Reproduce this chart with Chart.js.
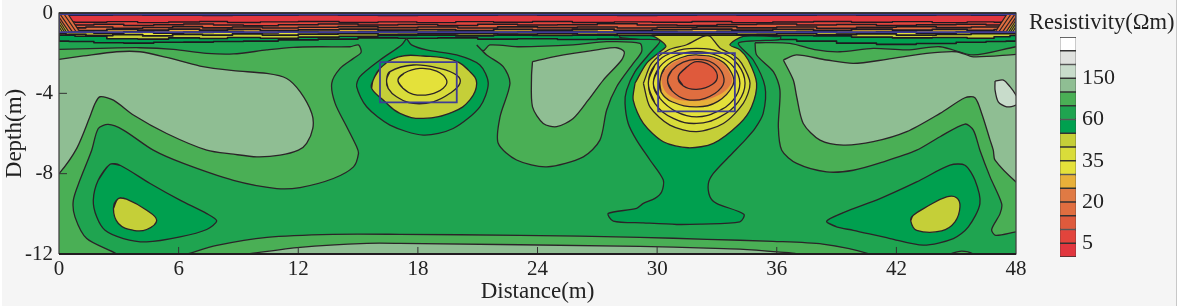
<!DOCTYPE html>
<html><head><meta charset="utf-8">
<style>
html,body{margin:0;padding:0;background:#fff;width:1178px;height:306px;overflow:hidden}
#page{position:absolute;left:2px;top:0;width:1174px;height:306px;background:#f5f5f5;border-right:1px solid #c8c8c8}
canvas{position:absolute;top:0}
#main{left:0}
#bar{left:1050px}
#barTitle{position:absolute;left:1029px;top:9px;font:22.5px "Liberation Serif",serif;color:#222;white-space:nowrap}
</style>
<script src="https://cdn.jsdelivr.net/npm/chart.js@4"></script>
</head><body>
<div id="page"></div>
<canvas id="main" width="1178" height="306"></canvas>
<canvas id="bar" width="128" height="306"></canvas>
<div id="barTitle">Resistivity(Ωm)</div>
<script>
const palette=['#e1363e','#e2443c','#df5a3c','#e06e40','#e07a44','#e8b039','#e4e13a','#d9dc3a','#c5cf38','#00a04f','#1fa450','#4aaf55','#8fbe93','#c8dccb','#dfe1de','#ffffff'];
const legendTickPositions=[1,4,7,10,13];
const legendTickLabels=['5','20','35','60','150'];
const xTicks=[0,6,12,18,24,30,36,42,48];
const yTicks=[0,-4,-8,-12];

const domainRect=[[0,0],[48,0],[48,-12],[0,-12]];
const c12Left=[[0,-1.81],[2.06,-1.76],[4.06,-1.73],[5.74,-1.81],[7.41,-2.01],[8.75,-2.04],[10.42,-1.84],[11.75,-1.71],[13.09,-1.68],[14.6,-1.68],[15.02,-1.59],[15.15,-1.96],[14.77,-2.26],[14.1,-2.76],[13.68,-3.5],[13.85,-4.5],[14.43,-5.66],[14.93,-6.66],[15.02,-7],[14.77,-7.66],[13.76,-8.24],[12.09,-8.69],[10.92,-8.74],[8.75,-8.33],[6.24,-7.49],[4.73,-6.83],[3.23,-5.83],[2.47,-5.55],[1.97,-5.75],[1.64,-6.83],[1.05,-8.32],[0.72,-9.32],[0.8,-10.15],[1.39,-11.23],[2.89,-12],[2.89,-12.2],[0,-12.2],[-0.2,-12.2],[-0.2,-1.81]];
const c12Centre=[[20.95,-1.59],[21.28,-1.88],[21.61,-1.59],[23.12,-1.68],[25.79,-1.59],[27.47,-1.43],[29.14,-1.51],[29.22,-1.93],[28.8,-2.51],[27.97,-3.67],[27.47,-4.83],[27.13,-6.33],[26.3,-7.16],[24.46,-7.66],[22.95,-7.32],[22.03,-6.49],[22.12,-5.17],[22.62,-3.5],[22.28,-2.67],[21.45,-2.09]];
const c12Right=[[34.91,-1.48],[36.66,-1.51],[38,-1.84],[39.17,-1.93],[40.84,-1.76],[42.52,-1.84],[44.19,-1.68],[45.86,-2.09],[48,-1.68],[48.2,-1.68],[48.2,-10.9],[48,-10.9],[46.98,-11.07],[46.78,-10.78],[47.2,-9.99],[47.28,-9.49],[46.7,-8.16],[46.19,-6.83],[45.86,-5.83],[45.44,-5.53],[44.19,-6.16],[43.02,-6.83],[41.35,-7.41],[39.84,-7.83],[38.5,-7.91],[37,-7.49],[36.25,-6.83],[36.08,-5.66],[36.16,-3.84],[35.83,-2.92],[34.99,-2.09]];
const c13Left=[[0,-2.31],[1.22,-2.14],[2.89,-1.93],[4.06,-1.93],[5.4,-2.21],[7.07,-2.64],[8.75,-2.87],[10.42,-3.01],[11.42,-3.26],[12.09,-3.92],[12.68,-5],[12.73,-5.75],[12.42,-6.49],[12.01,-6.83],[11.09,-7.08],[9.92,-7.16],[8.75,-7.03],[7.41,-6.83],[5.4,-6],[3.73,-5.08],[2.73,-4.34],[2.06,-4.17],[1.81,-4.5],[1.55,-5.17],[0.89,-6.74],[0,-8],[-0.2,-8],[-0.2,-2.31]];
const c13Centre=[[23.75,-2.42],[24.79,-2.18],[27.13,-1.81],[27.97,-1.73],[28.35,-1.93],[28.22,-2.34],[27.3,-3.34],[26.55,-4.33],[25.79,-5.25],[24.96,-5.66],[24.29,-5.5],[23.75,-4.67],[23.7,-3.17]];
const c13Right=[[36.33,-2.34],[37,-2.09],[38.5,-2.34],[39.84,-2.51],[41.51,-2.31],[43.52,-2.01],[45.02,-1.93],[45.86,-2.18],[48,-2.06],[48.2,-2.06],[48.2,-8.41],[48,-8.41],[46.95,-7.33],[46.86,-6.83],[46.7,-6.33],[46.28,-5],[45.94,-4.22],[45.44,-4.22],[44.19,-5],[42.52,-5.91],[40.84,-6.41],[39.34,-6.58],[38.17,-6.33],[37.33,-5.5],[37,-4.17],[36.83,-3.34]];
const c14Right=[[46.95,-3.39],[47.37,-3.34],[47.7,-3.67],[48,-4.09],[48.1,-4.3],[48,-4.58],[47.53,-4.67],[47.11,-4.42],[46.95,-3.84]];
const c12Bottom=[[6.42,-12],[7.92,-11.57],[10.43,-11.17],[13.74,-11.02],[17.1,-11.02],[23.12,-11.07],[29.14,-11.17],[32.5,-11.27],[35.81,-11.37],[38.31,-11.51],[40.67,-12],[40.67,-12.2],[6.42,-12.2]];
const c13Bottom=[[9.43,-12],[12.09,-11.67],[15.45,-11.47],[17.1,-11.47],[29.14,-11.62],[32.5,-11.71],[34.15,-11.76],[36.16,-11.91],[37.01,-12],[37.01,-12.2],[9.43,-12.2]];
const c12Bump=[[44.68,-12],[45.27,-11.86],[45.86,-12],[45.86,-12.2],[44.68,-12.2]];
const c10PocketLeft=[[2.56,-7.53],[3.06,-7.58],[4.57,-8.49],[6.07,-9.32],[7.41,-9.99],[7.91,-10.35],[7.41,-10.78],[6.07,-11.15],[4.4,-11.4],[3.23,-11.23],[2.31,-10.82],[1.89,-10.15],[1.72,-9.32],[1.97,-8.32]];
const c9PocketLeft=[[2.98,-9.24],[3.39,-9.27],[4.4,-9.82],[4.9,-10.32],[4.4,-10.78],[3.73,-10.82],[2.98,-10.48],[2.73,-9.74]];
const c10PocketRight=[[38.5,-10.37],[39.34,-9.94],[41.18,-9.24],[43.02,-8.41],[44.69,-7.58],[45.44,-7.58],[45.94,-8.32],[46.19,-9.49],[45.61,-10.65],[44.86,-11.23],[43.35,-11.56],[41.68,-11.23],[39.84,-10.82],[39,-10.65]];
const c9PocketRight=[[42.85,-10.07],[43.52,-9.65],[44.52,-9.16],[45.02,-9.2],[45.19,-9.65],[44.94,-10.4],[44.27,-10.85],[43.02,-10.82],[42.72,-10.35]];
const c10AnomalyLeft=[[17.43,-1.26],[17.68,-1.59],[18.44,-1.84],[19.94,-2.09],[21.11,-2.59],[21.53,-3.5],[21.11,-4.67],[19.77,-5.75],[18.27,-6.08],[16.6,-5.58],[15.43,-4.67],[14.93,-3.67],[15.09,-3.17],[16.1,-2.34],[17.18,-1.59]];
const c9AnomalyLeft=[[15.76,-3.34],[16.1,-2.76],[17.02,-2.18],[18.27,-2.14],[19.77,-2.34],[20.61,-2.92],[20.95,-3.5],[20.61,-4.33],[19.77,-4.92],[18.27,-5.25],[17.1,-5],[16.26,-4.33],[15.68,-3.75]];
const c8AnomalyLeft=[[16.43,-3.34],[16.6,-2.92],[17.77,-2.59],[19.11,-2.76],[19.94,-3.09],[20.11,-3.5],[19.61,-4],[18.77,-4.42],[17.77,-4.5],[16.93,-4.17],[16.51,-3.75]];
const c7AnomalyLeft=[[17,-3.34],[17.3,-3.0],[18.1,-2.76],[18.94,-2.89],[19.44,-3.34],[19.27,-3.75],[18.6,-4.05],[17.77,-4.05],[17.25,-3.75]];
const c10AnomalyRight=[[28.13,-1.08],[36.16,-1.08],[36.16,-1.31],[34.99,-1.38],[34.07,-1.51],[34.82,-2.34],[35.41,-3.67],[35.32,-5],[34.91,-5.75],[34.41,-6.33],[33.6,-7.16],[32.82,-7.99],[32.57,-8.49],[32.65,-9.15],[32.98,-9.48],[34.35,-10.02],[34.15,-10.4],[32.15,-10.51],[30.98,-10.53],[29.31,-10.45],[27.8,-10.36],[27.55,-9.98],[28.97,-9.73],[29.31,-9.48],[29.89,-9.23],[30.23,-8.9],[30.31,-8.32],[29.64,-7.32],[28.97,-6.33],[28.55,-5.5],[28.39,-4.5],[28.47,-3.84],[28.89,-2.92],[29.56,-2.09],[30.14,-1.38],[29.14,-1.31],[28.13,-1.21]];
const c9AnomalyRight=[[28.89,-3.5],[29.47,-2.51],[30.14,-1.93],[30.44,-1.64],[29.72,-1.13],[28.13,-1.08],[28.13,-0.93],[36.16,-0.93],[36.16,-1.16],[34.32,-1.16],[33.65,-1.58],[34.16,-1.84],[34.57,-2.34],[34.99,-3.5],[34.74,-4.67],[34.15,-5.5],[32.82,-6.49],[31.56,-6.71],[30.31,-6.41],[29.31,-5.5],[28.8,-4.34]];
const ringC8=[[29.31,-3.5],[29.72,-2.51],[30.56,-1.84],[31.48,-1.58],[32.32,-1.16],[32.65,-1.16],[33.15,-1.74],[33.82,-2.09],[34.24,-2.51],[34.66,-3.5],[34.32,-4.5],[33.32,-5.5],[31.98,-5.91],[30.64,-5.58],[29.64,-4.67]];
const ringC7Outer=[[29.56,-3.5],[29.89,-2.59],[30.73,-1.98],[31.98,-1.76],[33.24,-1.98],[34.07,-2.59],[34.41,-3.5],[34.07,-4.42],[33.15,-5.17],[31.98,-5.5],[30.81,-5.25],[29.89,-4.5]];
const ringC7Inner=[[29.81,-3.5],[30.14,-2.67],[30.89,-2.14],[31.98,-1.93],[33.07,-2.14],[33.82,-2.67],[34.15,-3.5],[33.82,-4.33],[32.98,-4.92],[31.98,-5.17],[30.98,-4.92],[30.14,-4.25]];
const ringC6=[[30.14,-3.4],[30.38,-2.74],[31.15,-2.24],[31.98,-2.09],[33.1,-2.32],[33.74,-3.0],[33.8,-3.6],[33.05,-4.4],[31.98,-4.67],[30.74,-4.42],[30.2,-3.94]];
const ringC5=[[30.22,-3.34],[30.45,-2.78],[31.15,-2.31],[31.98,-2.14],[33.05,-2.37],[33.65,-3.0],[33.7,-3.55],[32.85,-4.2],[31.6,-4.38],[30.6,-4.1]];
const ringC4=[[30.52,-3.34],[30.75,-2.84],[31.31,-2.45],[31.98,-2.31],[32.82,-2.5],[33.32,-3.12],[33.22,-3.72],[32.4,-4.25],[31.45,-4.3],[30.75,-3.88]];
const ringC3=[[31.06,-3.17],[31.5,-2.68],[31.98,-2.42],[32.65,-2.6],[33.02,-3.1],[32.78,-3.55],[31.98,-3.8],[31.3,-3.62]];

const bandXA=[0,1,2.5,4,5.5,7,8.5,10,12,14,16,18,20,22,24,26,28,30,32,34,36,38,40,42,44,46,47,48];
const bandXB=[0,1.6,3.2,4.7,6.3,7.8,9.1,11.1,12.9,15.2,16.8,19.1,20.7,22.9,24.6,26.9,28.8,30.7,32.8,34.7,36.9,38.8,40.7,42.9,44.7,46.4,47.4,48];
const bandXC=[0,0.7,2,3.4,5,6.4,8,9.4,11,13,15,17,19,21,23,25,27,29,31,33,35,37,39,41,43,45,46.5,48];
const bandC10=[-1.40,-1.42,-1.48,-1.50,-1.46,-1.45,-1.42,-1.40,-1.34,-1.30,-1.24,-1.26,-1.24,-1.30,-1.28,-1.32,-1.30,-1.31,-1.31,-1.31,-1.32,-1.40,-1.50,-1.56,-1.52,-1.46,-1.42,-1.40];
const bandC9=[-1.10,-1.16,-1.28,-1.30,-1.24,-1.27,-1.22,-1.26,-1.20,-1.16,-1.12,-1.10,-1.14,-1.10,-1.12,-1.10,-1.12,-1.10,-1.10,-1.10,-1.12,-1.14,-1.20,-1.24,-1.22,-1.26,-1.18,-1.12];
const bandC7=[-1.02,-1.06,-1.12,-1.08,-1.14,-1.06,-1.10,-1.04,-1.10,-1.05,-1.02,-1.06,-1.04,-1.02,-1.05,-1.03,-1.06,-1.02,-1.04,-1.03,-1.06,-1.02,-1.08,-1.04,-1.10,-1.06,-1.03,-1.02];
const bandC6=[-0.94,-0.96,-1.00,-0.94,-1.00,-0.96,-0.93,-0.98,-0.94,-0.97,-0.93,-0.96,-0.92,-0.97,-0.94,-0.92,-0.96,-0.93,-0.97,-0.92,-0.96,-0.93,-0.98,-0.94,-0.99,-0.94,-0.95,-0.94];
const bandC5=[-0.84,-0.88,-0.82,-0.86,-0.80,-0.86,-0.82,-0.88,-0.84,-0.80,-0.86,-0.83,-0.88,-0.82,-0.85,-0.80,-0.87,-0.83,-0.80,-0.86,-0.82,-0.87,-0.81,-0.85,-0.82,-0.87,-0.83,-0.84];
const bandC4=[-0.70,-0.74,-0.70,-0.76,-0.72,-0.68,-0.74,-0.70,-0.75,-0.71,-0.68,-0.73,-0.70,-0.75,-0.69,-0.73,-0.70,-0.75,-0.71,-0.68,-0.74,-0.70,-0.76,-0.71,-0.68,-0.73,-0.70,-0.71];
const bandC3=[-0.58,-0.60,-0.56,-0.62,-0.58,-0.55,-0.60,-0.63,-0.58,-0.55,-0.60,-0.57,-0.62,-0.56,-0.60,-0.58,-0.54,-0.60,-0.62,-0.57,-0.55,-0.60,-0.57,-0.62,-0.59,-0.56,-0.60,-0.58];
const bandC1=[-0.44,-0.46,-0.43,-0.48,-0.45,-0.42,-0.47,-0.44,-0.42,-0.47,-0.44,-0.48,-0.43,-0.46,-0.42,-0.47,-0.44,-0.46,-0.42,-0.48,-0.45,-0.42,-0.46,-0.43,-0.48,-0.44,-0.46,-0.45];
const bandTop=[-0.11,-0.12,-0.11,-0.10,-0.12,-0.11,-0.13,-0.11,-0.12,-0.10,-0.11,-0.13,-0.11,-0.12,-0.10,-0.12,-0.11,-0.13,-0.11,-0.10,-0.12,-0.11,-0.10,-0.12,-0.11,-0.10,-0.11,-0.11];

const hatchLeftBase=[[0,-0.05],[0.45,-0.05],[1,-0.88],[0,-0.95]];
const hatchLeftLow=[[0,-0.36],[0.5,-0.95],[0,-0.95]];
const hatchLeftLines=[[[0.45,-0.05],[1,-0.88]],[[0.25,-0.05],[0.85,-0.92]],[[0.05,-0.05],[0.68,-0.95]],[[0,-0.2],[0.5,-0.95]],[[0,-0.36],[0.38,-0.95]],[[0,-0.52],[0.28,-0.95]],[[0,-0.68],[0.17,-0.95]]];
const hatchRightBase=[[48,-0.05],[47.55,-0.05],[47,-0.88],[48,-0.95]];
const hatchRightLow=[[48,-0.36],[47.5,-0.95],[48,-0.95]];
const hatchRightLines=[[[47.55,-0.05],[47,-0.88]],[[47.75,-0.05],[47.15,-0.92]],[[47.95,-0.05],[47.32,-0.95]],[[48,-0.2],[47.5,-0.95]],[[48,-0.36],[47.62,-0.95]],[[48,-0.52],[47.72,-0.95]],[[48,-0.68],[47.83,-0.95]]];
const surveyBoxTop=[[0,-0.05],[48,-0.05],[48,-0.95],[0,-0.95]];
const surveyBoxLeft=[[16.1,-2.45],[19.95,-2.45],[19.95,-4.45],[16.1,-4.45]];
const surveyBoxRight=[[30.05,-2],[33.9,-2],[33.9,-4.9],[30.05,-4.9]];

const C=palette, LINE='#2b2328', BLUE='#3f3c96', FONT='"Liberation Serif",serif', INK='#222';
const sets=[];
function toPts(a,close){const p=a.map(q=>({x:q[0],y:q[1]}));if(close)p.push({x:a[0][0],y:a[0][1]});return p;}
function add(pts,o){sets.push(Object.assign({data:pts,showLine:true,pointRadius:0,pointHitRadius:0,borderColor:LINE,borderWidth:1.3,tension:0,fill:false,borderJoinStyle:'round'},o));}
function area(a,color,o){add(toPts(a,true),Object.assign({fill:'shape',backgroundColor:color,tension:0.28},o||{}));}
function loop(a,color,o){
  const n=a.length, wrapped=[a[n-1]].concat(a,[a[0],a[1]]);
  add(toPts(wrapped),Object.assign({fill:'shape',backgroundColor:color,tension:0.42},o||{}));
}
function band(xs,ys,color,w){
  const pts=xs.map((x,i)=>({x:x,y:ys[i]}));
  pts.push({x:48,y:0.2},{x:0,y:0.2},{x:0,y:ys[0]});
  add(pts,{fill:'shape',backgroundColor:color,stepped:'middle',borderWidth:w,borderColor:'#1e1a20'});
}
area(domainRect,C[10],{tension:0,borderWidth:0});
area(c12Left,C[11]);area(c12Centre,C[11]);area(c12Right,C[11]);
area(c13Left,C[12]);area(c13Centre,C[12]);area(c13Right,C[12]);area(c14Right,C[13]);
area(c12Bottom,C[11]);area(c13Bottom,C[12]);area(c12Bump,C[11]);
loop(c10PocketLeft,C[9],{tension:0.28});loop(c9PocketLeft,C[8]);loop(c10PocketRight,C[9],{tension:0.28});loop(c9PocketRight,C[8]);
band(bandXA,bandC10,C[9],1.6);
area(c10AnomalyLeft,C[9]);loop(c9AnomalyLeft,C[8]);loop(c8AnomalyLeft,C[7]);loop(c7AnomalyLeft,C[6]);
area(c10AnomalyRight,C[9]);area(c9AnomalyRight,C[8]);
area(ringC8,C[7]);loop(ringC7Outer,C[6]);loop(ringC7Inner,C[6]);loop(ringC6,C[5]);
loop(ringC5,C[4],{borderWidth:0});
loop(ringC4,C[3]);loop(ringC3,C[2]);
band(bandXB,bandC9,C[8],1.6);band(bandXC,bandC7,C[6],1.8);band(bandXA,bandC6,C[5],2);band(bandXB,bandC5,C[3],1.8);band(bandXC,bandC4,C[2],1.6);band(bandXA,bandC3,C[1],1.5);band(bandXB,bandC1,C[0],1.4);
add(bandXC.map((x,i)=>({x:x,y:bandTop[i]})),{stepped:'middle',borderWidth:1.4,borderColor:'#2c2548'});
area(hatchLeftBase,C[3],{tension:0,borderWidth:0});area(hatchLeftLow,C[6],{tension:0,borderWidth:0});
hatchLeftLines.forEach(l=>add(toPts(l),{borderWidth:1.2,borderColor:'#2a2020'}));
area(hatchRightBase,C[3],{tension:0,borderWidth:0});area(hatchRightLow,C[6],{tension:0,borderWidth:0});
hatchRightLines.forEach(l=>add(toPts(l),{borderWidth:1.2,borderColor:'#2a2020'}));
[surveyBoxTop,surveyBoxLeft,surveyBoxRight].forEach(b=>add(toPts(b,true),{borderColor:BLUE,borderWidth:1.8,borderJoinStyle:'miter'}));
xTicks.slice(1,-1).forEach(t=>add([{x:t,y:-12},{x:t,y:-11.65}],{borderWidth:1,borderColor:'#333'}));
yTicks.slice(1,-1).forEach(t=>add([{x:0,y:t},{x:0.4,y:t}],{borderWidth:1,borderColor:'#333'}));
add(toPts([[0,-12],[0,0],[48,0],[48,-12]]),{borderWidth:1.3,borderColor:'#444',clip:3});
add(toPts([[0,0],[48,0]]),{borderWidth:1.3,borderColor:'#2a2a2a',clip:3});
add(toPts([[0,-12],[48,-12]]),{borderWidth:2.2,borderColor:'#221c20',clip:3});
sets.forEach((s,i)=>{s.order=-i;});

new Chart(document.getElementById('main'),{
  type:'scatter',
  data:{datasets:sets},
  options:{
    responsive:false,animation:false,
    layout:{padding:{top:13,right:162,left:0,bottom:0}},
    plugins:{legend:{display:false},tooltip:{enabled:false},title:{display:false}},
    scales:{
      x:{type:'linear',min:0,max:48,
        afterBuildTicks(s){s.ticks=xTicks.map(v=>({value:v}));},
        afterFit(s){s.height=52;s.paddingLeft=0;s.paddingRight=0;},
        grid:{display:false,drawTicks:false},border:{display:false},
        ticks:{maxRotation:0,autoSkip:false,padding:3,color:INK,font:{family:FONT,size:21},callback:v=>String(v)},
        title:{display:true,text:'Distance(m)',color:INK,font:{family:FONT,size:23},padding:{top:0,bottom:0}}},
      y:{type:'linear',min:-12,max:0,
        afterBuildTicks(s){s.ticks=yTicks.map(v=>({value:v}));},
        afterFit(s){s.width=59;s.paddingTop=0;s.paddingBottom=0;},
        grid:{display:false,drawTicks:false},border:{display:false},
        ticks:{autoSkip:false,padding:6,color:INK,font:{family:FONT,size:21},callback:v=>String(v)},
        title:{display:true,text:'Depth(m)',color:INK,font:{family:FONT,size:23},padding:{top:1,bottom:0}}}
    }
  }
});

new Chart(document.getElementById('bar'),{
  type:'bar',
  data:{labels:[''],datasets:palette.map((c,i)=>({data:[1],backgroundColor:c,borderColor:'#333',borderWidth:{top:1,bottom:1,left:0.6,right:0.6},borderSkipped:false,barPercentage:1,categoryPercentage:1,order:i}))},
  options:{
    responsive:false,animation:false,
    layout:{padding:{top:37,bottom:49,left:10,right:0}},
    plugins:{legend:{display:false},tooltip:{enabled:false}},
    scales:{
      x:{stacked:true,display:false},
      y:{stacked:true,position:'right',min:0,max:16,
        afterBuildTicks(s){s.ticks=legendTickPositions.map(v=>({value:v}));},
        afterFit(s){s.width=102;s.paddingTop=0;s.paddingBottom=0;},
        grid:{display:false,drawTicks:false},border:{display:false},
        ticks:{autoSkip:false,padding:6,color:INK,font:{family:FONT,size:22},callback:v=>legendTickLabels[legendTickPositions.indexOf(v)]}}
    }
  }
});
</script>
</body></html>
